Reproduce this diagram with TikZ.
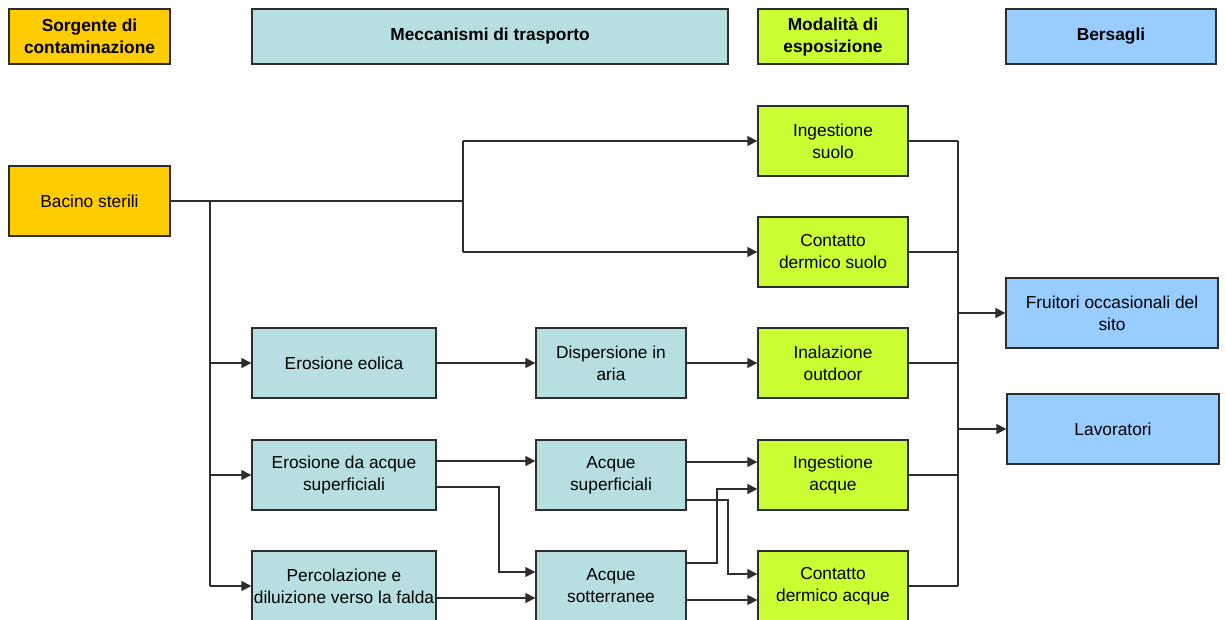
\documentclass[tikz,border=0pt]{standalone}
\usepackage{fontspec}
\setmainfont{Liberation Sans}
\usetikzlibrary{arrows.meta}
\definecolor{corange}{RGB}{255,204,0}
\definecolor{cteal}{RGB}{183,223,226}
\definecolor{cgreen}{RGB}{204,255,51}
\definecolor{cblue}{RGB}{153,204,255}
\definecolor{cline}{RGB}{45,45,45}
\tikzset{
  box/.style={draw=cline, line width=1pt, inner sep=0pt, align=center,
    font=\fontsize{13pt}{16.5pt}\selectfont, minimum height=52.5pt},
  hdr/.style={box, minimum height=41.25pt, font=\fontsize{13pt}{16.5pt}\selectfont\bfseries},
  src/.style={fill=corange, minimum width=120.75pt},
  mech/.style={fill=cteal},
  wide/.style={minimum width=138pt},
  narrow/.style={minimum width=112.5pt},
  expo/.style={fill=cgreen, minimum width=112.5pt},
  targ/.style={fill=cblue, minimum width=159pt},
  wire/.style={draw=cline, line width=1pt},
  arr/.style={wire, -{Triangle[length=7.5pt,width=7.5pt]}}
}
\begin{document}
\begin{tikzpicture}[x=0.75pt,y=-0.75pt]
\useasboundingbox (0,0) rectangle (1226,620);
% headers
\node[hdr,src] (hS) at (89.5,36.5) {Sorgente di\\contaminazione};
\node[hdr,mech,minimum width=357pt] (hM) at (490,36.5) {Meccanismi di trasporto};
\node[hdr,expo] (hE) at (833,36.5) {Modalità di\\esposizione};
\node[hdr,fill=cblue,minimum width=157.5pt] (hB) at (1111,36.5) {Bersagli};
% source
\node[box,src] (bac) at (89.5,201) {Bacino sterili};
% transport
\node[box,mech,wide] (eol) at (344,363) {Erosione eolica};
\node[box,mech,wide] (eacq) at (344,475) {Erosione da acque\\superficiali};
\node[box,mech,wide] (perc) at (344,586) {Percolazione e\\diluizione verso la falda};
\node[box,mech,narrow] (disp) at (611,363) {Dispersione in\\aria};
\node[box,mech,narrow] (asup) at (611,475) {Acque\\superficiali};
\node[box,mech,narrow] (asot) at (611,586) {Acque\\sotterranee};
% exposure
\node[box,expo] (ings) at (833,141) {Ingestione\\suolo};
\node[box,expo] (cds) at (833,252) {Contatto\\dermico suolo};
\node[box,expo] (inal) at (833,363) {Inalazione\\outdoor};
\node[box,expo] (inga) at (833,475) {Ingestione\\acque};
\node[box,expo] (cda) at (833,586) {Contatto\\dermico acque};
% targets
\node[box,targ] (fru) at (1112,313) {Fruitori occasionali del\\sito};
\node[box,targ] (lav) at (1113,429) {Lavoratori};
% junction coordinates
\coordinate (jL) at (210,201);
\coordinate (jLb) at (210,586);
\coordinate (jS) at (463,201);
\coordinate (jSa) at (463,141);
\coordinate (jSb) at (463,252);
\coordinate (jR) at (958,141);
\coordinate (jRb) at (958,586);
% source wiring
\draw[wire] (bac.east) -- (jS);
\draw[wire] (jL) -- (jLb);
\draw[wire] (jSa) -- (jSb);
\draw[arr] (jSa) -- (ings.west);
\draw[arr] (jSb) -- (cds.west);
\draw[arr] (jL |- eol.west) -- (eol.west);
\draw[arr] (jL |- eacq.west) -- (eacq.west);
\draw[arr] (jLb) -- (perc.west);
% transport wiring
\draw[arr] (eol.east) -- (disp.west);
\draw[arr] (disp.east) -- (inal.west);
\draw[arr] ([yshift=10.5pt]eacq.east) -- ([yshift=10.5pt]asup.west);
\draw[arr] ([yshift=-9pt]eacq.east) -| (499,572) -- (asot.west |- 0,572);
\draw[arr] ([yshift=-9pt]perc.east) -- ([yshift=-9pt]asot.west);
\draw[arr] ([yshift=9.75pt]asup.east) -- ([yshift=9.75pt]inga.west);
\draw[arr] ([yshift=-18.75pt]asup.east) -| (728,574) -- (cda.west |- 0,574);
\draw[arr] ([yshift=17.25pt]asot.east) -| (717,489) -- (inga.west |- 0,489);
\draw[arr] ([yshift=-10.5pt]asot.east) -- ([yshift=-10.5pt]cda.west);
% exposure to targets
\draw[wire] (jR) -- (jRb);
\draw[wire] (ings.east) -- (jR);
\draw[wire] (cds.east) -- (jR |- cds.east);
\draw[wire] (inal.east) -- (jR |- inal.east);
\draw[wire] (inga.east) -- (jR |- inga.east);
\draw[wire] (cda.east) -- (jRb);
\draw[arr] (jR |- fru.west) -- (fru.west);
\draw[arr] (jR |- lav.west) -- (lav.west);
\end{tikzpicture}
\end{document}
